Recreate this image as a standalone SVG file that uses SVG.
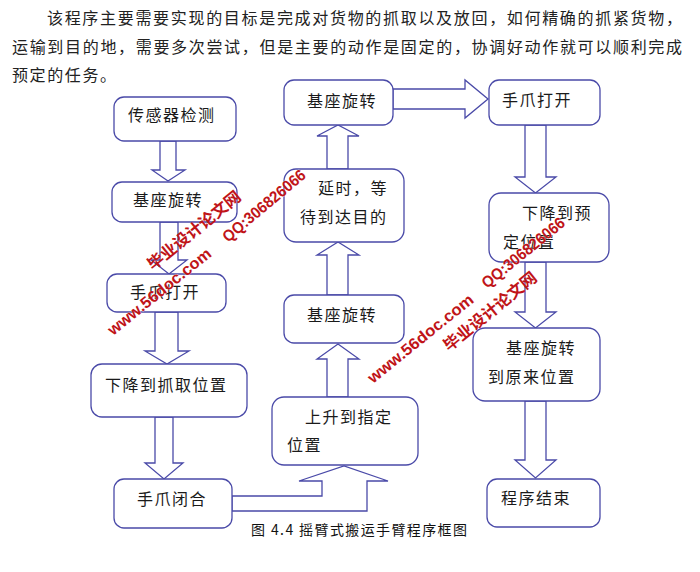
<svg xmlns="http://www.w3.org/2000/svg" width="700" height="572" viewBox="0 0 700 572">
<style>
.box{fill:#fff;stroke:#4a4aa8;stroke-width:1.3}
.arr{fill:#fff;stroke:#4a4aa8;stroke-width:1.3;stroke-linejoin:miter}
.t{font-family:"Noto Sans CJK SC","Noto Sans",sans-serif;font-size:16px;fill:#1a1a1a;letter-spacing:1.5px}
.p{font-family:"Noto Sans CJK SC","Noto Sans",sans-serif;font-size:16px;fill:#222}
.cap{font-family:"Noto Sans CJK SC","Noto Sans",sans-serif;font-size:14px;fill:#111}
.wm{font-family:"Liberation Sans","Noto Sans CJK SC",sans-serif;font-weight:bold;font-size:16px;fill:#c01418;stroke:#fff;stroke-width:0.4;paint-order:stroke}
.wmc{font-family:"Noto Sans CJK SC",sans-serif;font-weight:bold;font-size:16px;fill:#c01418}
</style>
<g id="intro">
<text class="p" x="47" y="24" textLength="635" lengthAdjust="spacing">该程序主要需要实现的目标是完成对货物的抓取以及放回，如何精确的抓紧货物，</text>
<text class="p" x="12" y="53" textLength="670" lengthAdjust="spacing">运输到目的地，需要多次尝试，但是主要的动作是固定的，协调好动作就可以顺利完成</text>
<text class="p" x="12" y="81" textLength="104" lengthAdjust="spacing">预定的任务。</text>
</g>
<g id="connectors">
<polygon class="arr" points="160,141 176,141 176,170 185,170 168,181 152,170 160,170"/>
<polygon class="arr" points="160,222 178,222 178,260 187,260 169,274 151,260 160,260"/>
<polygon class="arr" points="155,312 178,312 178,351 189,351 167,364 145,351 155,351"/>
<polygon class="arr" points="155,417 173,417 173,463 183,463 164,479 145,463 155,463"/>
<polygon class="arr" points="232,496 322,496 322,481 299,481 344,466 388,481 367,481 367,511 232,511"/>
<polygon class="arr" points="327,397 327,359 317,359 338,344 359,359 348,359 348,397"/>
<polygon class="arr" points="327,295 327,255 317,255 338,242 359,255 348,255 348,295"/>
<polygon class="arr" points="327,169 327,136 317,136 338,125 359,136 348,136 348,169"/>
<polygon class="arr" points="393,89 465,89 465,80 488,99 465,118 465,109 393,109"/>
<polygon class="arr" points="525,125 546,125 546,177 556,177 535.5,193 515,177 525,177"/>
<polygon class="arr" points="525,262 546,262 546,312 556,312 535.5,328 515,312 525,312"/>
<polygon class="arr" points="525,401 546,401 546,460 556,460 535.5,478 515,460 525,460"/>
</g>
<g id="n1"><rect class="box" x="114" y="97" width="122" height="44" rx="10"/><text class="t" x="128" y="121">传感器检测</text></g>
<g id="n2"><rect class="box" x="112" y="182" width="125" height="40" rx="10"/><text class="t" x="133" y="206">基座旋转</text></g>
<g id="n3"><rect class="box" x="107" y="274" width="119" height="38" rx="10"/><text class="t" x="130" y="298">手爪打开</text></g>
<g id="n4"><rect class="box" x="91" y="364" width="156" height="53" rx="11"/><text class="t" x="105" y="391">下降到抓取位置</text></g>
<g id="n5"><rect class="box" x="114" y="479" width="118" height="49" rx="10"/><text class="t" x="137" y="505">手爪闭合</text></g>
<g id="n6"><rect class="box" x="272" y="397" width="146" height="68" rx="12"/><text class="t" x="305" y="423">上升到指定</text><text class="t" x="287" y="451">位置</text></g>
<g id="n7"><rect class="box" x="284" y="295" width="120" height="48" rx="10"/><text class="t" x="307" y="321">基座旋转</text></g>
<g id="n8"><rect class="box" x="284" y="169" width="120" height="73" rx="12"/><text class="t" x="318" y="194">延时，等</text><text class="t" x="300" y="223">待到达目的</text></g>
<g id="n9"><rect class="box" x="284" y="80" width="109" height="45" rx="10"/><text class="t" x="307" y="107">基座旋转</text></g>
<g id="n10"><rect class="box" x="489" y="80" width="111" height="45" rx="10"/><text class="t" x="502" y="106">手爪打开</text></g>
<g id="n11"><rect class="box" x="489" y="193" width="120" height="69" rx="12"/><text class="t" x="522" y="219">下降到预</text><text class="t" x="503" y="248">定位置</text></g>
<g id="n12"><rect class="box" x="473" y="328" width="127" height="73" rx="12"/><text class="t" x="506" y="354">基座旋转</text><text class="t" x="488" y="383">到原来位置</text></g>
<g id="n13"><rect class="box" x="487" y="479" width="113" height="48" rx="10"/><text class="t" x="501" y="504">程序结束</text></g>
<g id="caption"><text class="cap" x="251" y="535" textLength="216" lengthAdjust="spacing">图 4.4 摇臂式搬运手臂程序框图</text></g>
<g id="watermarks">
<text class="wmc" transform="translate(153,271) rotate(-39)" textLength="115" lengthAdjust="spacingAndGlyphs">毕业设计论文网</text>
<text class="wm" transform="translate(228,243) rotate(-40)" textLength="103" lengthAdjust="spacingAndGlyphs">QQ:306826066</text>
<text class="wm" transform="translate(113,336) rotate(-39)" textLength="128" lengthAdjust="spacingAndGlyphs">www.56doc.com</text>
<text class="wmc" transform="translate(449,352) rotate(-39)" textLength="115" lengthAdjust="spacingAndGlyphs">毕业设计论文网</text>
<text class="wm" transform="translate(487,289) rotate(-39)" textLength="102" lengthAdjust="spacingAndGlyphs">QQ:306826066</text>
<text class="wm" transform="translate(373,384) rotate(-39)" textLength="131" lengthAdjust="spacingAndGlyphs">www.56doc.com</text>
</g>
</svg>
